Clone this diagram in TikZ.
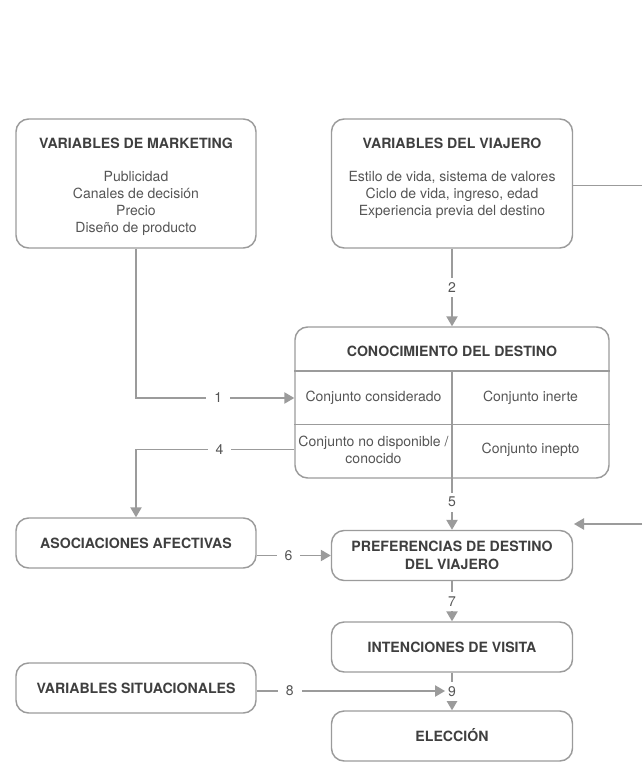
\documentclass[tikz,border=0pt]{standalone}
\usepackage{fontspec}
\setmainfont{TeX Gyre Heros}
\usetikzlibrary{arrows.meta,calc}
\definecolor{linegray}{HTML}{9B9B9B}
\definecolor{titlegray}{HTML}{3F3F3F}
\definecolor{bodygray}{HTML}{555555}
\begin{document}
\begin{tikzpicture}[x=0.75pt,y=-0.75pt,
  box/.style={draw=linegray, line width=1.1pt, rounded corners=9.5pt, inner sep=0pt},
  ttl/.style={font=\fontsize{10.6}{13.5}\selectfont\bfseries, text=titlegray, inner sep=0pt, align=center},
  txt/.style={font=\fontsize{10.5}{12.75}\selectfont, text=bodygray, inner sep=0pt, align=center},
  boxt/.style={box, ttl},
  conn/.style={draw=linegray, line width=1.1pt},
  arr/.style={conn, -{Triangle[length=7.5pt,width=8.5pt]}},
  num/.style={font=\fontsize{10.5}{12}\selectfont, text=bodygray, fill=white, inner xsep=6pt, inner ysep=3.5pt}]
\useasboundingbox (0,0) rectangle (642,762);

% top row: marketing and traveller variables
\node[box, minimum width=180pt, minimum height=96.75pt] (mkt) at (136,183.5) {};
\node[ttl] (mktT) at (136,143) {VARIABLES DE MARKETING};
\node[txt] (mktB) at (136,203) {Publicidad\\Canales de decisión\\Precio\\Diseño de producto};

\node[box, minimum width=180.75pt, minimum height=96.75pt] (via) at (452,183.5) {};
\node[ttl] (viaT) at (452,143) {VARIABLES DEL VIAJERO};
\node[txt] (viaB) at (452,195) {Estilo de vida, sistema de valores\\Ciclo de vida, ingreso, edad\\Experiencia previa del destino};

% destination awareness table
\node[box, minimum width=235.5pt, minimum height=113.25pt] (con) at (452,402.5) {};
\node[ttl] (conT) at (452,351) {CONOCIMIENTO DEL DESTINO};
\coordinate (rule) at (452,371);
\coordinate (mid) at (452,424.5);
\draw[conn] (con.west |- rule) -- (con.east |- rule);
\draw[conn] (con.west |- mid) -- (con.east |- mid);
\draw[conn] (rule) -- (con.south);
\node[txt] (c1) at (373.5,398) {Conjunto considerado};
\node[txt] (c2) at (530.5,398) {Conjunto inerte};
\node[txt] (c3) at (373.5,449.5) {Conjunto no disponible /\\conocido};
\node[txt] (c4) at (530.5,449.5) {Conjunto inepto};

% lower boxes
\node[boxt, minimum width=180pt, minimum height=37.5pt] (aso) at (136,543) {ASOCIACIONES AFECTIVAS};
\node[boxt, minimum width=180.75pt, minimum height=37.5pt] (pre) at (452,555.5) {PREFERENCIAS DE DESTINO\\DEL VIAJERO};
\node[boxt, minimum width=180.75pt, minimum height=37.5pt] (int) at (452,647) {INTENCIONES DE VISITA};
\node[boxt, minimum width=180pt, minimum height=37.5pt] (sit) at (136,688) {VARIABLES SITUACIONALES};
\node[boxt, minimum width=180.75pt, minimum height=37.5pt, text height=7.6pt, text depth=0pt] (ele) at (452,736) {ELECCIÓN};

% numbered connectors
\draw[arr] (mkt.south) |- node[num, pos=0.76] {1} (con.west |- c1);
\draw[arr] (via.south) -- node[num] {2} (con.north);
\draw[arr] (con.west |- c3) -| node[num, pos=0.236] {4} (aso.north);
\draw[arr] (con.south) -- node[num, pos=0.46] {5} (pre.north);
\draw[arr] (aso.east |- pre.west) -- node[num, pos=0.43] {6} (pre.west);
\draw[arr] (pre.south) -- node[num] {7} (int.north);
\draw[arr] (int.south) -- node[num, inner xsep=2pt] {9} (ele.north);
\coordinate (e8) at ($(int.south |- sit.east)+(-7,3)$);
\draw[arr] ([yshift=-2.25pt]sit.east) -- node[num, pos=0.175] {8} (e8);

% feedback lines leaving on the right
\coordinate (r1) at (642,185.5);
\draw[conn] (via.east |- r1) -- (r1);
\coordinate (r2) at (642,524);
\coordinate (r2e) at (574,524);
\draw[arr] (r2) -- (r2e);
\end{tikzpicture}
\end{document}
